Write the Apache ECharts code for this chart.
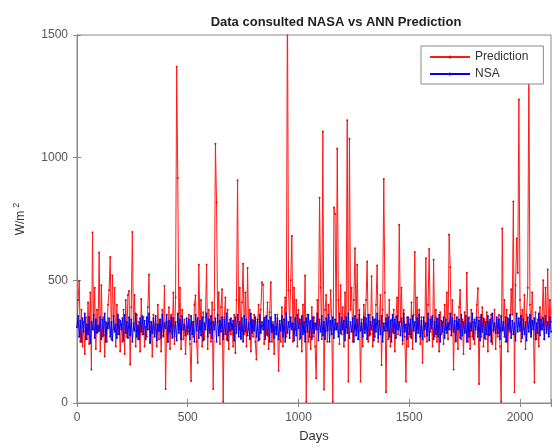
<!DOCTYPE html>
<html>
<head>
<meta charset="utf-8">
<script src="https://cdn.jsdelivr.net/npm/echarts@6/dist/echarts.min.js"></script>
<style>
html, body { margin: 0; padding: 0; background: #fff; }
#chart { width: 554px; height: 448px; }
</style>
</head>
<body>
<div id="chart"></div>
<script>
// ANN prediction (W/m2), one value every STEP days
var prediction = [
  310,420,497,250,380,230,330,200,350,260,410,240,450,137,695,300,470,220,380,290,
  613,210,480,270,350,190,330,250,400,460,595,260,520,300,470,230,400,280,340,210,
  320,250,380,200,420,270,440,457,157,390,697,300,440,230,360,260,330,210,424,280,
  350,230,310,270,390,524,250,330,190,360,280,320,230,400,260,340,210,380,270,477,
  57,330,250,390,220,360,280,450,240,430,1371,917,300,470,220,380,260,340,200,310,
  280,360,240,90,330,270,400,438,250,164,564,300,420,230,370,260,350,564,220,380,
  300,250,410,57,380,1057,817,330,450,240,390,464,5,350,430,260,380,220,340,280,
  320,230,360,204,420,908,300,470,260,410,568,280,450,230,550,300,380,210,340,270,
  360,250,177,330,400,260,380,492,482,240,350,280,410,220,370,492,250,330,200,310,
  280,360,131,320,250,390,230,340,430,270,1700,460,310,500,681,250,470,300,420,230,
  380,260,340,210,400,290,520,5,360,250,330,220,390,270,350,230,101,420,300,837,
  470,260,1107,55,380,440,250,400,300,460,330,5,797,770,300,1037,420,240,480,280,
  390,230,450,310,1153,88,1077,380,470,250,420,631,300,564,260,380,88,340,230,400,
  300,420,577,250,360,280,517,230,340,270,400,560,250,330,440,155,380,913,450,44,
  360,260,420,230,340,290,380,210,350,430,280,727,330,470,240,380,270,88,350,230,
  320,270,410,220,360,615,260,430,300,380,240,350,164,330,270,590,250,400,628,290,
  350,230,584,270,380,250,340,210,370,280,330,240,400,300,450,260,687,553,300,420,
  137,360,250,330,220,390,461,260,340,200,370,290,531,250,350,220,380,270,330,240,
  310,400,468,77,350,270,390,230,340,260,370,210,330,280,360,240,300,380,220,340,
  270,360,230,5,711,300,420,250,380,210,340,290,464,360,821,44,480,671,530,1237,
  420,250,380,300,440,220,360,470,1400,400,280,450,330,84,370,260,340,230,390,300,
  350,500,260,470,300,544,280,420,330
];

// NASA measured values (W/m2)
var nasa = [
  310,355,270,335,250,345,290,365,260,320,280,350,245,330,300,360,265,340,285,315,
  295,350,260,340,275,365,250,325,305,345,270,330,255,355,290,320,265,360,280,335,
  300,345,255,360,285,330,265,350,275,340,250,325,295,365,270,315,260,345,290,355,
  280,335,260,350,300,365,245,330,285,345,270,355,255,320,295,340,265,360,275,325,
  305,360,250,335,290,350,265,345,270,330,255,365,285,340,260,355,300,320,275,345,
  290,340,260,355,280,330,250,360,295,345,265,335,275,350,255,325,300,365,270,340,
  285,355,265,330,300,345,250,360,275,335,290,350,260,340,280,365,255,325,295,345,
  300,335,255,350,285,360,270,330,265,345,250,355,290,340,275,325,260,365,285,335,
  295,350,270,340,255,360,285,330,300,345,260,355,275,335,250,350,290,320,265,360,
  280,345,260,335,295,355,270,340,250,365,285,330,265,350,300,325,255,345,275,360,
  305,340,265,355,280,330,250,345,290,360,270,335,260,350,285,325,300,365,255,340,
  290,355,275,330,260,345,295,360,250,335,280,350,265,340,300,325,270,365,285,345,
  300,335,255,350,285,365,265,330,290,345,250,355,275,340,260,360,295,325,270,350,
  285,345,260,360,275,330,300,350,255,340,290,365,265,335,280,355,250,325,295,345,
  295,350,270,335,250,360,285,340,265,355,300,330,275,345,255,365,290,320,260,350,
  280,340,265,355,295,330,250,345,285,360,270,335,260,350,300,325,275,365,255,340,
  305,355,260,330,280,345,270,360,250,335,290,350,265,340,285,325,300,365,275,345,
  290,335,255,350,300,340,265,360,275,330,285,355,250,345,270,325,295,365,260,340,
  300,350,270,335,255,360,290,345,265,330,280,355,275,340,250,365,295,325,285,350,
  285,340,260,355,295,330,270,350,250,345,300,360,265,335,280,325,255,365,290,345,
  295,355,265,340,280,330,255,350,290,360,270,335,300,345,260,325,285,365,275,340,
  300,345,260,355,285,330,270,350,290
];

var STEP = 5;
var xTicks = [0, 500, 1000, 1500, 2000];
var yTicks = [0, 500, 1000, 1500];

var days = prediction.map(function (v, i) { return i * STEP; });
function pairs(vals) {
  return vals.map(function (v, i) { return [days[i], v]; });
}

var font = 'Liberation Sans, Arial, sans-serif';
var myChart = echarts.init(document.getElementById('chart'));

var xBase = {
  type: 'value',
  min: 0,
  max: 2140,
  interval: 500,
  axisLine: { lineStyle: { color: '#8a8a8a', width: 1 } },
  axisTick: { inside: true, length: 4, lineStyle: { color: '#8a8a8a' } },
  splitLine: { show: false }
};
var yBase = {
  type: 'value',
  min: yTicks[0],
  max: yTicks[yTicks.length - 1],
  interval: 500,
  axisLine: { show: true, lineStyle: { color: '#8a8a8a', width: 1 } },
  axisTick: { show: true, inside: true, length: 4, lineStyle: { color: '#8a8a8a' } },
  splitLine: { show: false }
};

var option = {
  animation: false,
  backgroundColor: '#fff',
  title: {
    text: 'Data consulted NASA vs ANN Prediction',
    left: 336,
    top: 16,
    padding: 0,
    textAlign: 'center',
    textStyle: { fontFamily: font, fontSize: 13, fontWeight: 'bold', color: '#222' }
  },
  legend: {
    orient: 'vertical',
    left: 421,
    top: 46,
    padding: [4, 15, 3, 8],
    itemGap: 3,
    itemWidth: 40,
    itemHeight: 4,
    backgroundColor: '#fff',
    borderColor: '#8a8a8a',
    borderWidth: 1,
    borderRadius: 0,
    textStyle: { fontFamily: font, fontSize: 12, color: '#333', lineHeight: 14 },
    data: ['Prediction', 'NSA']
  },
  grid: { left: 77, right: 0, top: 35, bottom: 37, show: true, borderColor: '#8a8a8a', borderWidth: 1 },
  xAxis: [
    Object.assign({}, xBase, {
      name: 'Days',
      nameLocation: 'middle',
      nameGap: 27,
      nameTextStyle: { fontFamily: font, fontSize: 13, color: '#333' },
      axisLabel: {
        fontFamily: font, fontSize: 12, color: '#555', margin: 9,
        formatter: function (v) { return xTicks.indexOf(v) >= 0 ? String(v) : ''; }
      }
    }),
    Object.assign({}, xBase, { position: 'top', axisLabel: { show: false } })
  ],
  yAxis: [
    Object.assign({}, yBase, {
      name: '{a|W/m}{b|2}',
      nameLocation: 'middle',
      nameGap: 48,
      nameRotate: 90,
      nameTextStyle: {
        fontFamily: font, color: '#333',
        rich: {
          a: { fontFamily: font, fontSize: 12, color: '#333' },
          b: { fontFamily: font, fontSize: 9, color: '#333', padding: [0, 0, 8, 3] }
        }
      },
      axisLabel: {
        fontFamily: font, fontSize: 12, color: '#555', margin: 9,
        formatter: function (v) { return String(v); }
      }
    }),
    Object.assign({}, yBase, { position: 'right', axisLabel: { show: false } })
  ],
  series: [
    {
      name: 'Prediction',
      type: 'line',
      data: pairs(prediction),
      showSymbol: true,
      showAllSymbol: true,
      symbol: 'circle',
      symbolSize: 2,
      itemStyle: { color: '#d01010' },
      lineStyle: { color: '#ff1a1a', width: 1 },
      emphasis: { disabled: true },
      clip: true,
      z: 2
    },
    {
      name: 'NSA',
      type: 'line',
      data: pairs(nasa),
      showSymbol: true,
      showAllSymbol: true,
      symbol: 'circle',
      symbolSize: 2,
      itemStyle: { color: '#1010c0' },
      lineStyle: { color: '#0000ff', width: 1 },
      emphasis: { disabled: true },
      clip: true,
      z: 3
    }
  ]
};

myChart.setOption(option);
</script>
</body>
</html>
